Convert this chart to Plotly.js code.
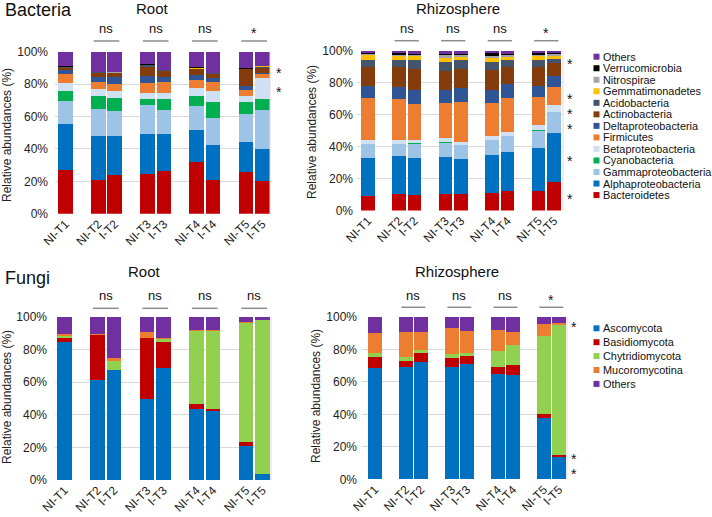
<!DOCTYPE html>
<html><head><meta charset="utf-8">
<script src="https://cdn.plot.ly/plotly-3.0.1.min.js"></script>
<style>html,body{margin:0;padding:0;background:#fff}#chart{width:712px;height:517px}</style>
</head><body><div id="chart"></div>
<script>
// ---------------- DATA ----------------
const samples = ['NI-T1','NI-T2','I-T2','NI-T3','I-T3','NI-T4','I-T4','NI-T5','I-T5'];
const percentTicks = [0,20,40,60,80,100];

// Bacteria taxa, bottom -> top of the stack
const bacteriaTaxa = ['Bacteroidetes','Alphaproteobacteria','Gammaproteobacteria','Cyanobacteria','Betaproteobacteria','Firmicutes','Deltaproteobacteria','Actinobacteria','Acidobacteria','Gemmatimonadetes','Nitrospirae','Verrucomicrobia','Others'];
const fungiTaxa = ['Ascomycota','Basidiomycota','Chytridiomycota','Mucoromycotina','Others'];

// Bacteria - Root (%)
const rootBacteroidetes = [27.2,20.8,23.9,24.5,26.1,31.9,20.8,25.9,20.2];
const rootAlpha        = [27.9,27.3,24.2,24.9,23.3,19.5,21.4,18.1,19.9];
const rootGamma        = [14.4,16.5,15.1,17.5,14.8,15.1,16.9,17.7,23.9];
const rootCyano        = [6.2,8.0,8.4,3.7,6.4,6.1,10.0,7.2,6.8];
const rootBeta         = [5.2,4.1,4.3,4.1,4.1,5.2,6.4,3.9,12.7];
const rootFirmicutes   = [5.1,4.8,4.1,6.2,6.4,4.9,6.0,3.5,2.5];
const rootDelta        = [2.7,3.1,4.2,4.3,3.3,2.9,2.0,2.7,1.0];
const rootActino       = [1.4,2.0,2.4,5.5,3.7,3.7,2.7,10.1,3.1];
const rootAcido        = [0.4,0.6,0.4,0.9,0.6,0.3,0.4,0.3,0.6];
const rootGemma        = [0.1,0.1,0.1,0.3,0.1,0.1,0.1,0.1,0.2];
const rootNitro        = [0.1,0.1,0.1,0.2,0.1,0.1,0.1,0.1,0.1];
const rootVerruco      = [0.2,0.2,0.2,0.1,0.1,0.5,0.1,0.1,0.1];
const rootOthers       = [9.1,12.4,12.6,7.8,11.0,9.7,13.1,10.3,8.9];

// Bacteria - Rhizosphere (%)
const rhizoBacteroidetes = [9.2,10.2,9.6,10.6,10.4,10.8,12.5,11.9,17.9];
const rhizoAlpha        = [23.9,23.6,23.1,22.7,22.1,23.8,24.2,27.1,30.6];
const rhizoGamma        = [8.6,7.9,9.2,9.2,8.5,9.4,10.0,11.0,13.2];
const rhizoCyano        = [0.1,0.1,0.1,0.1,0.1,0.1,0.1,0.1,0.1];
const rhizoBeta         = [2.3,2.5,1.9,2.5,1.9,2.3,2.3,3.1,4.3];
const rhizoFirmicutes   = [26.6,25.4,22.9,21.9,24.8,20.8,21.6,17.7,11.3];
const rhizoDelta        = [7.3,7.7,8.7,8.1,8.6,8.3,8.4,7.3,6.5];
const rhizoActino       = [11.5,12.1,12.9,11.9,12.0,12.7,10.8,11.3,8.1];
const rhizoAcido        = [4.8,4.8,5.5,6.2,5.7,5.0,4.4,4.8,2.9];
const rhizoGemma        = [2.9,2.1,2.5,2.5,2.0,2.5,1.6,2.1,1.9];
const rhizoNitro        = [0.8,1.0,1.0,1.3,1.1,1.1,1.3,1.0,1.0];
const rhizoVerruco      = [0.4,1.0,0.6,0.8,0.8,1.6,0.6,1.0,0.6];
const rhizoOthers       = [1.6,1.6,2.0,2.2,2.0,1.6,2.2,1.6,1.6];

// Fungi - Root (%)
const fRootAsco     = [84.7,61.2,67.1,49.8,68.4,43.3,42.2,21.0,3.5];
const fRootBasidio  = [2.4,27.4,0.3,37.1,16.3,3.0,1.3,2.5,0.1];
const fRootChytrid  = [1.1,0.3,5.7,0.3,1.4,44.9,47.7,72.8,94.2];
const fRootMucoro   = [1.0,0.5,1.8,3.4,0.8,0.6,0.4,0.4,0.4];
const fRootOthers   = [10.8,10.6,25.1,9.4,13.1,8.2,8.4,3.3,1.8];

// Fungi - Rhizosphere (%)
const fRhizoAsco    = [68.3,69.3,72.4,69.3,70.8,65.0,64.2,38.0,13.9];
const fRhizoBasidio = [7.2,3.5,5.1,5.6,5.3,4.3,6.2,2.2,1.3];
const fRhizoChytrid = [2.4,2.5,2.1,2.4,1.6,9.5,12.1,48.0,79.6];
const fRhizoMucoro  = [12.4,15.6,11.3,15.6,13.4,12.9,8.4,7.2,1.6];
const fRhizoOthers  = [9.7,9.1,9.1,7.1,8.9,8.3,9.1,4.6,3.6];

// Significance of the NI vs I comparison for T2..T5
const bacteriaRootPairSig  = ['ns','ns','ns','*'];
const bacteriaRhizoPairSig = ['ns','ns','ns','*'];
const fungiRootPairSig     = ['ns','ns','ns','ns'];
const fungiRhizoPairSig    = ['ns','ns','ns','*'];
// Taxa marked with * at T5
const bacteriaRootSigTaxa  = ['Betaproteobacteria','Actinobacteria'];
const bacteriaRhizoSigTaxa = ['Bacteroidetes','Alphaproteobacteria','Gammaproteobacteria','Betaproteobacteria','Firmicutes','Acidobacteria'];
const fungiRootSigTaxa     = [];
const fungiRhizoSigTaxa    = ['Ascomycota','Basidiomycota','Mucoromycotina'];

// ---------------- STYLE ----------------
const bacteriaColors = ['#C00000','#0070C0','#9DC3E6','#00B050','#CFE0F2','#ED7D31','#2F5597','#843C0C','#44546A','#FFC000','#A6A6A6','#000000','#7030A0'];
const fungiColors = ['#0070C0','#C00000','#92D050','#ED7D31','#7030A0'];
const FONT = '"Liberation Sans", Arial, Helvetica, sans-serif';
const W = 712, H = 517;

const bacteriaRoot  = [rootBacteroidetes,rootAlpha,rootGamma,rootCyano,rootBeta,rootFirmicutes,rootDelta,rootActino,rootAcido,rootGemma,rootNitro,rootVerruco,rootOthers];
const bacteriaRhizo = [rhizoBacteroidetes,rhizoAlpha,rhizoGamma,rhizoCyano,rhizoBeta,rhizoFirmicutes,rhizoDelta,rhizoActino,rhizoAcido,rhizoGemma,rhizoNitro,rhizoVerruco,rhizoOthers];
const fungiRoot  = [fRootAsco,fRootBasidio,fRootChytrid,fRootMucoro,fRootOthers];
const fungiRhizo = [fRhizoAsco,fRhizoBasidio,fRhizoChytrid,fRhizoMucoro,fRhizoOthers];

// slot position: sample index + (time point - 1) leaves a gap between time points
const slots = samples.map((s,i) => i + parseInt(s.split('T')[1],10) - 1);

// panel geometry (pixels)
const panels = [
  {id:'',  left:55,  right:270, top:51.7,  bottom:213.7, xr:[-0.64,12.47], bw:0.88,
   taxa:bacteriaTaxa, colors:bacteriaColors, data:bacteriaRoot, pairSig:bacteriaRootPairSig, sigTaxa:bacteriaRootSigTaxa,
   title:'Root', titleX:152, titleY:8.5, lineY:41, sigY:29.5, ytX:7, ytY:135, sd:6},
  {id:'2', left:357, right:563, top:50.7,  bottom:210.5, xr:[-0.71,12.58], bw:0.9,
   taxa:bacteriaTaxa, colors:bacteriaColors, data:bacteriaRhizo, pairSig:bacteriaRhizoPairSig, sigTaxa:bacteriaRhizoSigTaxa,
   title:'Rhizosphere', titleX:458, titleY:8.5, lineY:40.7, sigY:29.5, ytX:312, ytY:132, sd:3},
  {id:'3', left:55,  right:271, top:316.7, bottom:480,   xr:[-0.58,12.52], bw:0.9,
   taxa:fungiTaxa, colors:fungiColors, data:fungiRoot, pairSig:fungiRootPairSig, sigTaxa:fungiRootSigTaxa,
   title:'Root', titleX:144, titleY:271, lineY:308.3, sigY:296.7, ytX:7, ytY:397, sd:7},
  {id:'4', left:362, right:567, top:316.8, bottom:479.3, xr:[-0.85,12.52], bw:0.9,
   taxa:fungiTaxa, colors:fungiColors, data:fungiRhizo, pairSig:fungiRhizoPairSig, sigTaxa:fungiRhizoSigTaxa,
   title:'Rhizosphere', titleX:457, titleY:271, lineY:307.3, sigY:296.7, ytX:316, ytY:396, sd:4},
];

const px = v => v / W;
const py = v => 1 - v / H;
function slotPx(p, s){ return p.left + (s - p.xr[0]) / (p.xr[1]-p.xr[0]) * (p.right - p.left); }
function pctPx(p, v){ return p.bottom - v/100 * (p.bottom - p.top); }

const traces = [];
const layout = {
  width: W, height: H, margin:{l:0,r:0,t:0,b:0},
  paper_bgcolor:'#fff', plot_bgcolor:'#fff',
  barmode:'stack', showlegend:false,
  font:{family:FONT, color:'#222'},
  annotations:[], shapes:[]
};
const STAR_SIZE = 14, STAR_SHIFT = 3.2;

panels.forEach(p => {
  const xa = 'x'+p.id, ya = 'y'+p.id;
  p.data.forEach((vals,k) => {
    traces.push({type:'bar', x:slots, y:vals, name:p.taxa[k], width:p.bw,
      marker:{color:p.colors[k], line:{width:0}}, xaxis:xa, yaxis:ya, hoverinfo:'name+y'});
  });
  layout['xaxis'+p.id] = {domain:[px(p.left), px(p.right)], range:p.xr, anchor:ya,
    tickmode:'array', tickvals:slots, ticktext:samples, tickangle:-45,
    showgrid:false, zeroline:false, showline:false, ticks:'',
    tickfont:{size:12, color:'#222', family:FONT}, fixedrange:true};
  layout['yaxis'+p.id] = {domain:[py(p.bottom), py(p.top)], range:[0,100], anchor:xa,
    tickmode:'array', tickvals:percentTicks, ticktext:percentTicks.map(v => v + '%'),
    showgrid:true, gridcolor:'#D9D9D9', gridwidth:1, zeroline:false, showline:false, ticks:'',
    ticklabelstandoff:p.sd, tickfont:{size:12, color:'#222', family:FONT}, fixedrange:true};
  // faint right edge of plot area
  layout.shapes.push({type:'line', xref:'paper', yref:'paper', x0:px(p.right), x1:px(p.right),
    y0:py(p.bottom), y1:py(p.top), line:{color:'#EAD6E0', width:1}});
  // panel title
  layout.annotations.push({text:p.title, xref:'paper', yref:'paper', x:px(p.titleX), y:py(p.titleY),
    xanchor:'center', yanchor:'middle', showarrow:false, font:{size:15, color:'#111'}});
  // y title
  layout.annotations.push({text:'Relative abundances (%)', textangle:-90, xref:'paper', yref:'paper',
    x:px(p.ytX), y:py(p.ytY), xanchor:'center', yanchor:'middle', showarrow:false, font:{size:12, color:'#222'}});
  // pair brackets
  p.pairSig.forEach((sig,j) => {
    const ni = slots[1+2*j];
    const c = ni + 0.5;
    layout.shapes.push({type:'line', xref:'paper', yref:'paper',
      x0:px(slotPx(p, c-0.78)), x1:px(slotPx(p, c+0.78)), y0:py(p.lineY), y1:py(p.lineY),
      line:{color:'#8C8C8C', width:1.5}});
    const isStar = sig === '*';
    layout.annotations.push({text:sig, xref:'paper', yref:'paper', x:px(slotPx(p,c)),
      y:py(p.sigY + (isStar ? STAR_SHIFT : -1)), xanchor:'center', yanchor:'middle', showarrow:false,
      font:{size:isStar?STAR_SIZE:13, color:'#111'}});
  });
  // taxon stars next to last bar, at the middle of the segment, kept >= 15px apart
  const last = p.data.map(v => v[v.length-1]);
  const ys = p.sigTaxa.map(t => {
    const k = p.taxa.indexOf(t);
    let base = 0; for (let i=0;i<k;i++) base += last[i];
    return pctPx(p, base + last[k]/2);
  }).sort((a,b) => a-b);
  for (let i=1;i<ys.length;i++) if (ys[i] - ys[i-1] < 15) ys[i] = ys[i-1] + 15;
  ys.forEach(yc => {
    layout.annotations.push({text:'*', xref:'paper', yref:'paper', x:px(slotPx(p, 13)),
      y:py(yc + STAR_SHIFT), xanchor:'center', yanchor:'middle', showarrow:false,
      font:{size:STAR_SIZE, color:'#111'}});
  });
});

// group titles
layout.annotations.push({text:'Bacteria', xref:'paper', yref:'paper', x:px(3), y:py(9.5), xanchor:'left', yanchor:'middle', showarrow:false, font:{size:18, color:'#111'}});
layout.annotations.push({text:'Fungi', xref:'paper', yref:'paper', x:px(3), y:py(277.5), xanchor:'left', yanchor:'middle', showarrow:false, font:{size:18, color:'#111'}});

// legends
function addLegend(order, taxa, colors, y0, step){
  order.forEach((k, r) => {
    const yc = y0 + r*step;
    layout.shapes.push({type:'rect', xref:'paper', yref:'paper', x0:px(593.5), x1:px(599.5),
      y0:py(yc+3), y1:py(yc-3), fillcolor:colors[k], line:{width:0}});
    layout.annotations.push({text:taxa[k], xref:'paper', yref:'paper', x:px(601), y:py(yc),
      xanchor:'left', yanchor:'middle', showarrow:false, font:{size:10.9, color:'#111'}});
  });
}
addLegend(bacteriaTaxa.map((_,i) => bacteriaTaxa.length-1-i), bacteriaTaxa, bacteriaColors, 56.7, 11.53);
addLegend(fungiTaxa.map((_,i) => i), fungiTaxa, fungiColors, 328.3, 13.9);

Plotly.newPlot('chart', traces, layout, {displayModeBar:false, staticPlot:true});
</script></body></html>
